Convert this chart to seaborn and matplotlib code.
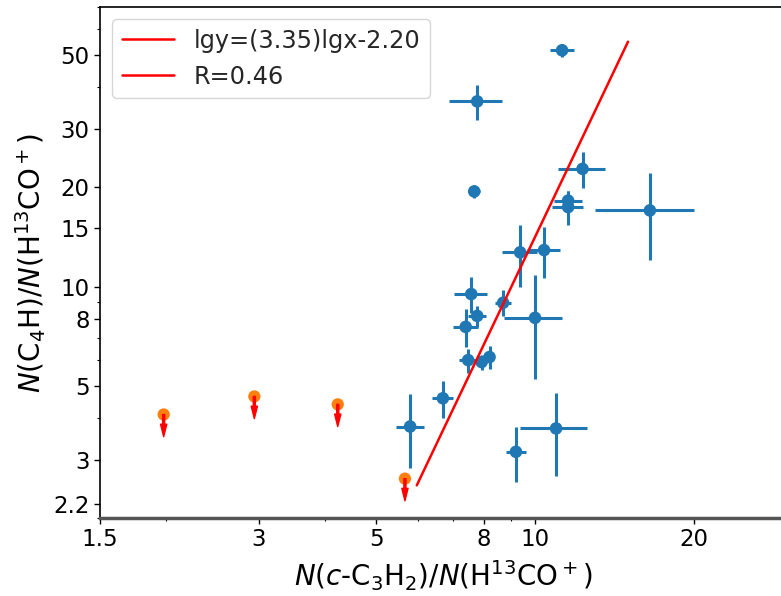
import numpy as np
import pandas as pd
import matplotlib
matplotlib.use("Agg")
import matplotlib.pyplot as plt
import matplotlib.transforms as mtransforms
from matplotlib.ticker import FixedLocator, NullFormatter, FixedFormatter
import seaborn as sns

# detections
x_det = [11.25, 7.77, 7.67, 12.3, 11.55, 11.55, 16.5, 9.37, 10.4, 7.57, 7.77,
         7.39, 8.7, 10.0, 7.47, 7.92, 8.2, 6.69, 5.8, 9.2, 10.96]
y_det = [51.8, 36.3, 19.4, 22.7, 18.2, 17.4, 17.0, 12.7, 12.9, 9.5, 8.16,
         7.56, 8.94, 8.05, 6.0, 5.92, 6.13, 4.6, 3.78, 3.17, 3.73]
xerr_det = [0.6, 0.9, 0.2, 1.25, 0.7, 0.8, 3.5, 0.7, 0.75, 0.55, 0.3,
            0.4, 0.3, 1.25, 0.3, 0.2, 0.15, 0.3, 0.35, 0.4, 1.6]
yerr_det = [2.5, 4.5, 0.9, 2.8, 1.2, 2.0, 5.0, 2.7, 2.3, 1.2, 0.6,
            1.0, 0.8, 2.8, 0.5, 0.3, 0.5, 0.6, 0.95, 0.6, 1.05]

# upper limits
x_lim = [1.98, 2.94, 4.23, 5.67]
y_lim = [4.11, 4.66, 4.41, 2.63]

# fit line
fit_x = [5.97, 15.0]
fit_y = [2.51, 55.0]
fit_label = "lgy=(3.35)lgx-2.20"
r_label = "R=0.46"

x_ticks = [1.5, 3, 5, 8, 10, 20]
y_ticks = [2.2, 3, 5, 8, 10, 15, 20, 30, 50]

sns.set_style("ticks")
plt.rcParams['font.family'] = ['DejaVu Sans']

fig = plt.figure(figsize=(7.81, 5.96), dpi=100)
ax = fig.add_axes([100/781, 78/596, 687/781, 511/596])
ax.set_xscale('log')
ax.set_yscale('log')

blue = '#1f77b4'
orange = '#ff7f0e'

ax.errorbar(x_det, y_det, xerr=xerr_det, yerr=yerr_det, fmt='none',
            ecolor=blue, elinewidth=2.2, zorder=2)
det = pd.DataFrame({'x': x_det, 'y': y_det})
sns.scatterplot(data=det, x='x', y='y', color=blue, s=82, edgecolor='none',
                ax=ax, zorder=3)
lim = pd.DataFrame({'x': x_lim, 'y': y_lim})
sns.scatterplot(data=lim, x='x', y='y', color=orange, s=78, edgecolor='none',
                ax=ax, zorder=3)

off = mtransforms.offset_copy(ax.transData, fig=fig, x=0, y=-16, units='points')
for xv, yv in zip(x_lim, y_lim):
    ax.annotate('', xy=(xv, yv), xycoords=off, xytext=(xv, yv), textcoords='data',
                arrowprops=dict(facecolor='red', edgecolor='red', width=1.5,
                                headwidth=4.5, headlength=9, shrink=0),
                zorder=4)

fit = pd.DataFrame({'x': fit_x, 'y': fit_y})
sns.lineplot(data=fit, x='x', y='y', color='red', lw=1.8, ax=ax, label=fit_label,
             zorder=5)
ax.plot([], [], color='red', lw=1.8, label=r_label)

ax.set_xlim(1.5, 30)
ax.set_ylim(2.0, 70)

ax.xaxis.set_major_locator(FixedLocator(x_ticks))
ax.xaxis.set_major_formatter(FixedFormatter([str(t) for t in x_ticks]))
ax.xaxis.set_minor_formatter(NullFormatter())
ax.yaxis.set_major_locator(FixedLocator(y_ticks))
ax.yaxis.set_major_formatter(FixedFormatter([str(t) for t in y_ticks]))
ax.yaxis.set_minor_formatter(NullFormatter())

ax.tick_params(axis='both', which='major', labelsize=16.5, length=4, width=1,
               color='black', labelcolor='black')
ax.tick_params(axis='both', which='minor', length=2.5, width=0.8, color='black')

ax.set_xlabel(r"$N$($c$-C$_3$H$_2$)/$N$(H$^{13}$CO$^+$)", fontsize=20, color='black',
              labelpad=5)
ax.set_ylabel(r"$N$(C$_4$H)/$N$(H$^{13}$CO$^+$)", fontsize=20, color='black',
              labelpad=4)

for s in ['left', 'top', 'right']:
    ax.spines[s].set_color('black')
    ax.spines[s].set_linewidth(1.2)
ax.spines['bottom'].set_color('#555555')
ax.spines['bottom'].set_linewidth(2.5)

leg = ax.legend(loc='upper left', fontsize=17.3, frameon=True, handlelength=2.2,
                borderaxespad=0.5)
leg.get_frame().set_edgecolor('#cccccc')

fig.savefig('out.png', dpi=100)
